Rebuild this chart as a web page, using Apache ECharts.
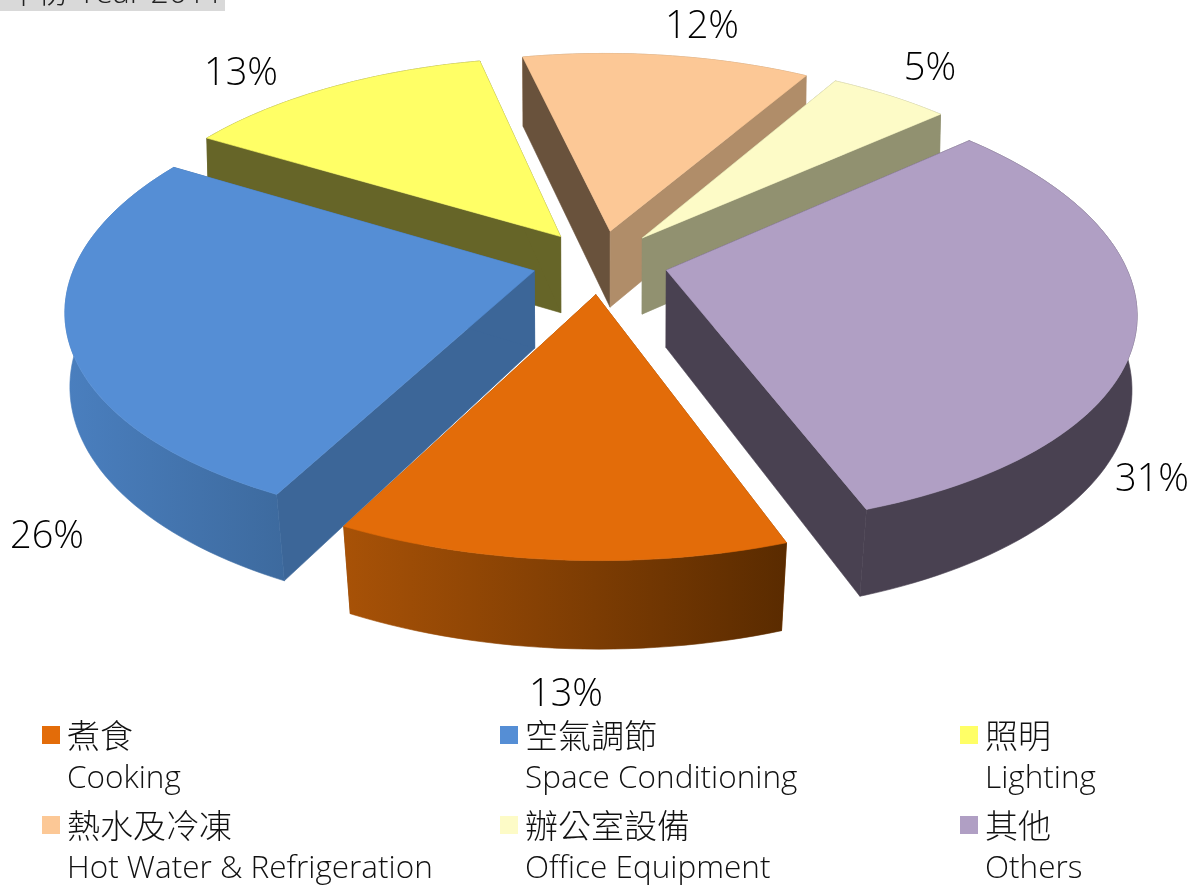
<!DOCTYPE html>
<html>
<head>
<meta charset="utf-8">
<style>html,body{margin:0;padding:0;background:#fff}#chart{width:1200px;height:888px}</style>
<script src="https://cdn.jsdelivr.net/npm/echarts@6/dist/echarts.min.js"></script>
</head>
<body>
<div id="chart"></div>
<script>
const categories = ['煮食\nCooking', '空氣調節\nSpace Conditioning', '照明\nLighting', '熱水及冷凍\nHot Water & Refrigeration', '辦公室設備\nOffice Equipment', '其他\nOthers'];
const shares = [13, 26, 13, 12, 5, 31];
const yearLabel = '年份 Year 2011';

// colours of each slice: top, start face, end face, rim left, rim right
const topColors = ['#e36c09', '#558ed5', '#ffff66', '#fcc896', '#fdfbc7', '#b09fc4'];
const startFace = ['#8a4406', '#3c6698', '#666528', '#69523c', '#919170', '#494151'];
const endFace = ['#8a4406', '#3c6698', '#666528', '#b08d69', '#919170', '#494151'];
const rimLeft = ['#a85207', '#4a7fbf', '#666528', '#b08d69', '#919170', '#494151'];
const rimRight = ['#5a2b00', '#3d6a9e', '#666528', '#b08d69', '#919170', '#494151'];

// label centres and legend slots
const labelAt = [[566, 695], [47, 537], [241, 74], [702, 27], [930, 69], [1152, 480]];
const legendAt = [[42, 671], [500, 671], [960, 671], [42, 761], [500, 761], [960, 761]];

// back to front
const drawOrder = [3, 4, 2, 1, 5, 0];

const FONT = '"Open Sans","Noto Sans CJK TC",sans-serif';
const START = 160.5, CX = 600, CY = 262, R = 458, EXPLODE = 68;
const TILT = 0.47, PERSP_X = 0.17, SHEAR = 0.009;

function wallHeight(v) {
  return 77 + (v > 0 ? 0.022 : 0.015) * v;
}

// x is to the right, v comes toward the viewer
function project(x, v, down) {
  const px = x / (1 - PERSP_X * v / R) + SHEAR * v;
  const py = TILT * v / (1 - (v > 0 ? 0.15 : 0.16) * v / R);
  if (!down) return [CX + px, CY + py];
  const shrink = v > 0 ? 0.995 - 0.02 * v / R : 0.995;
  return [CX + px * shrink, CY + py + wallHeight(v)];
}

function rad(deg) { return deg * Math.PI / 180; }

function buildSlice(i) {
  const total = shares.reduce((a, b) => a + b, 0);
  let before = 0;
  for (let k = 0; k < i; k++) before += shares[k];
  const a0 = START + before / total * 360;
  const a1 = a0 + shares[i] / total * 360;
  const mid = rad((a0 + a1) / 2);
  const ex = Math.sin(mid) * EXPLODE, ev = -Math.cos(mid) * EXPLODE;

  const arc = [];
  for (let a = a0; a < a1; a += 1.5) arc.push(a);
  arc.push(a1);
  const xv = arc.map(a => [ex + R * Math.sin(rad(a)), ev - R * Math.cos(rad(a))]);
  const topArc = xv.map(p => project(p[0], p[1], false));
  const lowArc = xv.map(p => project(p[0], p[1], true));
  const apexTop = project(ex, ev, false), apexLow = project(ex, ev, true);

  const poly = (points, fill) => ({
    type: 'polygon',
    shape: { points },
    style: { fill, stroke: fill, lineWidth: 0.6 }
  });
  const rimFill = new echarts.graphic.LinearGradient(0, 0, 1, 0, [
    { offset: 0, color: rimLeft[i] },
    { offset: 1, color: rimRight[i] }
  ]);
  const n = topArc.length - 1;
  const rim = poly(topArc.concat(lowArc.slice().reverse()), rimFill);
  const faces = [
    poly([apexTop, topArc[0], lowArc[0], apexLow], startFace[i]),
    poly([apexTop, topArc[n], lowArc[n], apexLow], endFace[i])
  ];
  // a rim facing the viewer goes over the faces, a rim at the back goes under them
  const walls = ev > 0 ? faces.concat(rim) : [rim].concat(faces);
  return walls.concat([
    poly([apexTop].concat(topArc), topColors[i]),
    {
      type: 'text',
      style: {
        text: shares[i] + '%',
        x: labelAt[i][0],
        y: labelAt[i][1],
        align: 'center',
        verticalAlign: 'middle',
        font: '300 38px ' + FONT,
        fill: '#000'
      }
    }
  ]);
}

const chart = echarts.init(document.getElementById('chart'), null, { renderer: 'canvas' });
chart.setOption({
  animation: false,
  graphic: [
    { type: 'rect', shape: { x: 0, y: 0, width: 225, height: 11 }, style: { fill: '#d9d9d9' }, z: 1 },
    { type: 'text', x: 6, y: -22, z: 2, style: { text: yearLabel, font: '300 32px ' + FONT, fill: '#222' } }
  ],
  legend: categories.map((name, i) => ({
    data: [name],
    left: legendAt[i][0],
    top: legendAt[i][1],
    padding: 0,
    icon: 'rect',
    itemWidth: 18,
    itemHeight: 18,
    selectedMode: false,
    formatter: n => {
      const lines = n.split('\n');
      return '\n{zh|' + lines[0] + '}\n{en|' + lines[1] + '}';
    },
    textStyle: {
      fontFamily: FONT,
      fontSize: 30,
      lineHeight: 48,
      color: '#111',
      padding: [0, 0, 0, 2],
      rich: {
        zh: { fontFamily: FONT, fontWeight: 300, fontSize: 33, lineHeight: 40, color: '#111' },
        en: { fontFamily: FONT, fontWeight: 300, fontSize: 31.5, lineHeight: 40, color: '#111' }
      }
    }
  })),
  series: categories.map((name, i) => ({
    type: 'custom',
    name,
    coordinateSystem: 'none',
    z: 2 + drawOrder.indexOf(i),
    silent: true,
    itemStyle: { color: topColors[i] },
    data: [shares[i]],
    renderItem: () => ({ type: 'group', children: buildSlice(i) })
  }))
});
</script>
</body>
</html>
